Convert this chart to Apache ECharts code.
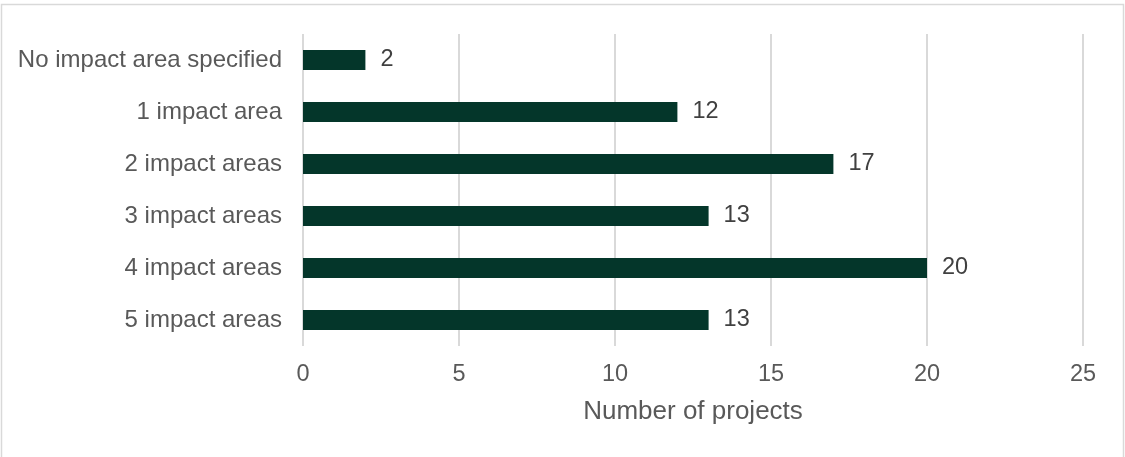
<!DOCTYPE html>
<html>
<head>
<meta charset="utf-8">
<script src="https://cdn.jsdelivr.net/npm/echarts@6/dist/echarts.min.js"></script>
<style>
html,body{margin:0;padding:0;background:#fff;}
#c{width:1125px;height:457px;}
</style>
</head>
<body>
<div id="c"></div>
<script>
const categories = ["No impact area specified", "1 impact area", "2 impact areas", "3 impact areas", "4 impact areas", "5 impact areas"];
const projectCounts = [2, 12, 17, 13, 20, 13];
const xTicks = [0, 5, 10, 15, 20, 25];

const chart = echarts.init(document.getElementById('c'), null, {renderer: 'canvas'});
const font = 'Arial, "Liberation Sans", sans-serif';
chart.setOption({
  animation: false,
  backgroundColor: '#fff',
  graphic: [
    {type: 'polyline', shape: {points: [[1.5, 460], [1.5, 4.5], [1123.5, 4.5], [1123.5, 460]]}, style: {stroke: '#d9d9d9', lineWidth: 1.5, fill: null}, silent: true}
  ],
  grid: {left: 303, right: 42, top: 34, bottom: 111, containLabel: false},
  xAxis: {
    type: 'value',
    min: xTicks[0], max: xTicks[xTicks.length - 1], interval: 5,
    name: 'Number of projects',
    nameLocation: 'middle',
    nameGap: 53,
    nameTextStyle: {color: '#595959', fontSize: 26, fontFamily: font},
    axisLine: {show: false},
    axisTick: {show: false},
    axisLabel: {color: '#595959', fontSize: 23.5, fontFamily: font, margin: 17},
    splitLine: {lineStyle: {color: '#d9d9d9', width: 2}}
  },
  yAxis: {
    type: 'category',
    data: categories,
    inverse: true,
    axisLine: {show: false},
    axisTick: {show: false},
    axisLabel: {color: '#595959', fontSize: 24, fontFamily: font, margin: 21}
  },
  series: [{
    type: 'bar',
    data: projectCounts,
    barWidth: 20,
    itemStyle: {color: '#04362a'},
    label: {show: true, position: 'right', distance: 15, color: '#404040', fontSize: 23.5, fontFamily: font}
  }]
});
</script>
</body>
</html>
